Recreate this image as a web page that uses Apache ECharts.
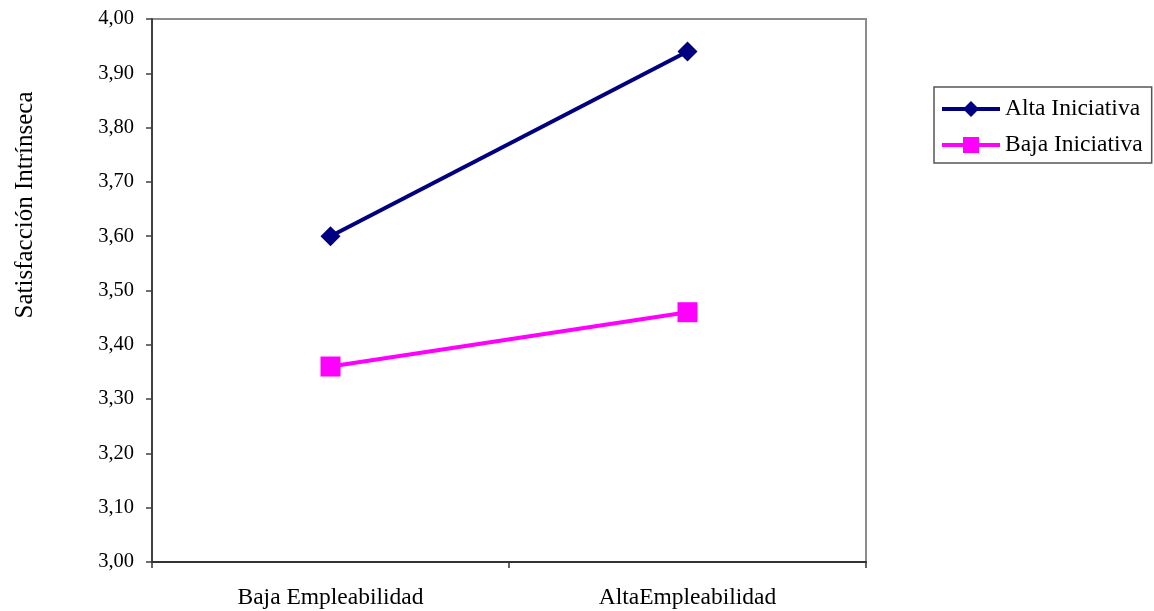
<!DOCTYPE html>
<html>
<head>
<meta charset="utf-8">
<script src="https://cdn.jsdelivr.net/npm/echarts@6/dist/echarts.min.js"></script>
<style>html,body{margin:0;padding:0;background:#fff}#c{width:1154px;height:611px}</style>
</head>
<body>
<div id="c"></div>
<script>
const categories = ['Baja Empleabilidad', 'AltaEmpleabilidad'];
const altaIniciativa = [3.60, 3.94];
const bajaIniciativa = [3.36, 3.46];
const seriesNames = ['Alta Iniciativa', 'Baja Iniciativa'];
const yTitle = 'Satisfacción Intrínseca';

const FONT = '"Liberation Serif", "Times New Roman", serif';
const chart = echarts.init(document.getElementById('c'), null, {renderer: 'canvas'});
chart.setOption({
  animation: false,
  backgroundColor: '#ffffff',
  grid: {left: 152, right: 288, top: 19, bottom: 49, show: true, borderColor: '#8c8c8c', borderWidth: 2, backgroundColor: 'transparent'},
  legend: {
    orient: 'vertical', left: 934, top: 87,
    padding: [10, 9, 6, 6],
    itemWidth: 58, itemHeight: 20, itemGap: 12,
    borderColor: '#555', borderWidth: 1.5,
    lineStyle: {width: 4},
    textStyle: {fontFamily: FONT, fontSize: 23.5, color: '#000'},
    data: seriesNames
  },
  xAxis: {
    type: 'category', data: categories, boundaryGap: true,
    axisLine: {lineStyle: {color: '#333', width: 2}},
    axisTick: {show: true, length: 6, alignWithLabel: false, lineStyle: {color: '#333', width: 1.5}},
    axisLabel: {fontFamily: FONT, fontSize: 23.5, color: '#000', margin: 24},
    splitLine: {show: false}
  },
  yAxis: {
    type: 'value', min: 3.0, max: 4.0, interval: 0.1,
    axisLine: {show: true, lineStyle: {color: '#404040', width: 2}},
    axisTick: {show: true, length: 6, lineStyle: {color: '#404040', width: 1.5}},
    axisLabel: {fontFamily: FONT, fontSize: 20.5, color: '#000', margin: 18,
      formatter: v => v.toFixed(2).replace('.', ',')},
    splitLine: {show: false}
  },
  graphic: [{
    type: 'text', x: 25, y: 205, rotation: Math.PI / 2,
    style: {text: yTitle, fontFamily: FONT, fontSize: 25, fill: '#000', textAlign: 'center', textVerticalAlign: 'middle'}
  }],
  series: [
    {name: seriesNames[0], type: 'line', data: altaIniciativa, symbol: 'diamond', symbolSize: 20,
      itemStyle: {color: '#000080'}, lineStyle: {color: '#000080', width: 4}},
    {name: seriesNames[1], type: 'line', data: bajaIniciativa, symbol: 'rect', symbolSize: 20,
      itemStyle: {color: '#ff00ff'}, lineStyle: {color: '#ff00ff', width: 4}}
  ]
});
</script>
</body>
</html>
